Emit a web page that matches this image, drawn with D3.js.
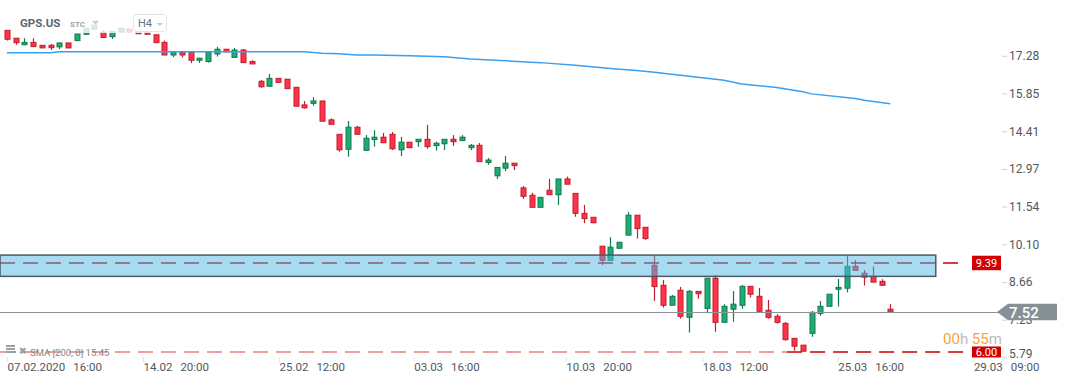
<!DOCTYPE html>
<html>
<head>
<meta charset="utf-8">
<script src="https://cdn.jsdelivr.net/npm/d3@7"></script>
<style>
body { margin: 0; background: #fff; }
text { font-family: Roboto, "Noto Sans", sans-serif; }
</style>
</head>
<body>
<script>
"use strict";

// GPS.US, H4 candles : [open, high, low, close]
var candles = [
    [18.25,18.25,17.86,17.91],[17.95,17.95,17.70,17.78],[17.70,17.95,17.70,17.79],[17.79,17.95,17.63,17.63],
    [17.68,17.68,17.58,17.58],[17.68,17.73,17.50,17.59],[17.62,17.77,17.54,17.77],[17.77,17.77,17.58,17.58],
    [17.86,18.11,17.86,18.11],[18.10,18.33,18.07,18.33],[18.29,18.45,18.29,18.45],[18.18,18.26,17.98,17.98],
    [18.01,18.21,17.92,18.21],[18.18,18.33,18.18,18.33],[18.30,18.30,18.15,18.18],[18.19,18.19,18.12,18.12],
    [18.16,18.16,18.10,18.10],[18.08,18.08,17.78,17.78],[17.79,17.86,17.31,17.31],[17.31,17.44,17.23,17.44],
    [17.40,17.40,17.22,17.31],[17.41,17.46,17.00,17.11],[17.11,17.19,17.01,17.19],[17.06,17.46,17.02,17.41],
    [17.35,17.62,17.25,17.53],[17.53,17.53,17.43,17.43],[17.22,17.58,17.22,17.50],[17.50,17.54,17.02,17.02],
    [17.06,17.11,16.97,16.97],[16.31,16.36,16.07,16.10],[16.12,16.59,16.12,16.42],[16.42,16.42,16.27,16.27],
    [16.39,16.39,16.03,16.03],[16.08,16.08,15.36,15.36],[15.41,15.56,15.27,15.30],[15.47,15.70,15.38,15.56],
    [15.56,15.56,14.79,14.79],[14.84,14.90,14.67,14.67],[14.29,14.29,13.63,13.70],[13.72,14.80,13.44,14.56],
    [14.56,14.61,14.29,14.29],[13.68,14.26,13.68,14.14],[14.09,14.45,13.82,14.18],[14.18,14.34,13.97,13.97],
    [14.29,14.38,13.69,13.74],[13.70,14.19,13.46,13.99],[13.99,13.99,13.78,13.78],[14.01,14.10,13.81,14.10],
    [14.10,14.65,13.74,13.82],[13.86,14.01,13.67,13.95],[13.93,14.10,13.69,14.10],[14.10,14.26,13.85,14.01],
    [14.05,14.26,14.05,14.18],[13.78,13.92,13.69,13.87],[13.87,13.96,13.25,13.25],[13.22,13.39,13.13,13.31],
    [12.71,13.03,12.59,13.03],[13.00,13.46,12.89,13.19],[13.19,13.19,12.93,13.10],[12.25,12.32,11.83,11.93],
    [11.97,12.06,11.51,11.51],[11.51,11.89,11.51,11.89],[12.16,12.59,11.99,11.99],[11.99,12.59,11.60,12.59],
    [12.59,12.68,12.39,12.39],[12.04,12.04,11.15,11.28],[11.28,11.60,10.91,11.08],[11.13,11.13,10.92,10.92],
    [10.03,10.03,9.31,9.49],[9.49,10.37,9.49,9.99],[9.95,10.18,9.95,10.18],[10.45,11.33,10.45,11.21],
    [11.21,11.21,10.32,10.70],[10.75,10.75,10.27,10.32],[9.30,9.67,7.95,8.49],[8.54,8.74,7.69,7.78],
    [7.78,8.17,7.78,8.12],[8.35,8.48,7.27,7.36],[7.32,8.36,6.74,8.31],[8.31,8.31,8.03,8.22],
    [7.66,8.81,7.47,8.81],[8.81,8.93,6.77,7.13],[7.13,7.82,7.13,7.74],[7.63,8.32,7.15,7.82],
    [7.78,8.55,7.65,8.50],[8.50,8.50,8.08,8.20],[8.12,8.44,7.50,7.55],[7.59,7.98,7.27,7.32],
    [7.36,7.44,7.08,7.13],[7.09,7.14,6.43,6.47],[6.52,6.52,6.05,6.22],[6.26,6.26,6.03,6.03],
    [6.71,7.56,6.58,7.51],[7.47,7.94,7.38,7.74],[7.74,8.20,7.74,8.20],[8.39,8.78,7.73,8.46],
    [8.43,9.67,8.27,9.26],[9.26,9.50,9.11,9.11],[9.00,9.12,8.53,8.85],[8.88,9.26,8.66,8.66],
    [8.69,8.77,8.54,8.54],[7.63,7.82,7.52,7.52]
];

// SMA(200) read at some candle indexes
var smaIdx = [0, 5, 6, 34, 36, 38, 40, 42, 46, 50, 53, 57, 61, 65, 69, 72, 74, 78, 82, 84, 88, 91, 92, 97, 98, 101];
var smaVal = [17.40, 17.40, 17.43, 17.43, 17.38, 17.36, 17.31, 17.31, 17.28, 17.24, 17.16, 17.09, 17.02,
              16.92, 16.80, 16.72, 16.65, 16.50, 16.35, 16.21, 16.07, 15.91, 15.83, 15.65, 15.59, 15.45];

var yTicks = [17.28, 15.85, 14.41, 12.97, 11.54, 10.10, 8.66, 7.23, 5.79];
var xTickPos = [0, 15.55, 31.1, 46.5, 63.9, 79.5, 95.0, 110.5];
var xTickLabels = ["07.02.2020 16:00", "14.02 20:00", "25.02 12:00", "03.03 16:00",
                   "10.03 20:00", "18.03 12:00", "25.03 16:00", "29.03 09:00"];

var zone = { from: -0.8, to: 106.2, high: 9.69, low: 8.88 };
var levelHigh = 9.39;
var levelLow = 6.00;
var lastPrice = 7.52;
var levelLowAnchor = 89.2;

var widthEcran = 1069, heightEcran = 384;

var svg = d3.select("body").append("svg")
    .attr("width", widthEcran)
    .attr("height", heightEcran);

var x = d3.scaleLinear().domain([0, candles.length - 1]).range([7, 890.3]);
var y = d3.scaleLinear().domain([5.79, 17.28]).range([357.5, 55.8]);

var RED = "#ff3347", RED_D = "#bf1e2e", GREEN = "#20ab74", GREEN_D = "#0f7a4e";

// level 6.00 (faded part left of anchor)
svg.append("line")
    .attr("x1", 0).attr("x2", x(levelLowAnchor))
    .attr("y1", y(levelLow)).attr("y2", y(levelLow))
    .attr("stroke", "#d00000").attr("stroke-opacity", 0.5)
    .attr("stroke-width", 1.5).attr("stroke-dasharray", "15,8");
svg.append("line")
    .attr("x1", x(levelLowAnchor)).attr("x2", 963)
    .attr("y1", y(levelLow)).attr("y2", y(levelLow))
    .attr("stroke", "#c80000")
    .attr("stroke-width", 1.5).attr("stroke-dasharray", "15,8");

// candles
var cg = svg.append("g");
var isUp = function(d) { return d[3] >= d[0]; };
cg.selectAll(".wick").data(candles).enter().append("line")
    .attr("x1", function(d, i) { return Math.round(x(i)) + 0.5; })
    .attr("x2", function(d, i) { return Math.round(x(i)) + 0.5; })
    .attr("y1", function(d) { return y(d[1]); })
    .attr("y2", function(d) { return y(d[2]); })
    .attr("stroke", function(d) { return isUp(d) ? GREEN_D : RED_D; })
    .attr("stroke-width", 1.2);
cg.selectAll(".body").data(candles).enter().append("rect")
    .attr("x", function(d, i) { return Math.round(x(i)) - 2; })
    .attr("y", function(d) { return y(Math.max(d[0], d[3])); })
    .attr("width", 5)
    .attr("height", function(d) { return Math.max(1, y(Math.min(d[0], d[3])) - y(Math.max(d[0], d[3]))); })
    .attr("fill", function(d) { return isUp(d) ? GREEN : RED; })
    .attr("stroke", function(d) { return isUp(d) ? GREEN_D : RED_D; })
    .attr("stroke-width", 1);

// SMA line
var smaPts = smaIdx.map(function(v, i) { return [v, smaVal[i]]; });
svg.append("path")
    .datum(smaPts)
    .attr("fill", "none")
    .attr("stroke", "#3a9ff0")
    .attr("stroke-width", 1.5)
    .attr("d", d3.line().x(function(d) { return x(d[0]); }).y(function(d) { return y(d[1]); }));

// level 9.39
svg.append("line")
    .attr("x1", 0).attr("x2", 963)
    .attr("y1", y(levelHigh)).attr("y2", y(levelHigh))
    .attr("stroke", "#c80000")
    .attr("stroke-width", 1.5).attr("stroke-dasharray", "15,8");

// zone
svg.append("rect")
    .attr("x", x(zone.from))
    .attr("y", y(zone.high))
    .attr("width", x(zone.to) - x(zone.from))
    .attr("height", y(zone.low) - y(zone.high))
    .attr("fill", "rgb(78,183,228)")
    .attr("fill-opacity", 0.5)
    .attr("stroke", "#4a5b66")
    .attr("stroke-width", 1.5);

// last price line
svg.append("line")
    .attr("x1", 0).attr("x2", 998)
    .attr("y1", Math.round(y(lastPrice)) + 0.5).attr("y2", Math.round(y(lastPrice)) + 0.5)
    .attr("stroke", "#8d9497").attr("stroke-width", 1);

// right axis
var yAxis = svg.append("g")
    .attr("transform", "translate(1002,0)")
    .call(d3.axisRight(y).tickValues(yTicks).tickSize(5).tickPadding(2).tickFormat(d3.format(".2f")));
yAxis.select(".domain").remove();
yAxis.selectAll(".tick line").attr("stroke", "#cfd3d6");
yAxis.selectAll(".tick text")
    .attr("fill", "#50585e")
    .attr("font-size", "12px")
    .attr("font-family", "Roboto")
    .attr("y", function(d) { return d === 5.79 ? -3.5 : 0; });

// bottom axis
var xAxis = svg.append("g")
    .attr("transform", "translate(0,357)")
    .call(d3.axisBottom(x).tickValues(xTickPos).tickSize(5).tickFormat(""));
xAxis.select(".domain").remove();
xAxis.selectAll(".tick line").attr("stroke", "#e2e4e6");
xAxis.selectAll(".tick").each(function(d, i) {
    var parts = xTickLabels[i].split(" ");
    var t = d3.select(this).append("text")
        .attr("y", 14)
        .attr("text-anchor", "start")
        .attr("fill", "#50585e")
        .attr("font-size", "11.5px")
        .attr("font-family", "Roboto");
    t.append("tspan").text(parts[0]);
    t.append("tspan").attr("dx", 8).text(parts[1]);
});

// level labels
function levelLabel(value, h) {
    var cy = y(value);
    svg.append("rect")
        .attr("x", 972).attr("y", cy - h / 2)
        .attr("width", 29).attr("height", h)
        .attr("fill", "#d30000");
    svg.append("text")
        .attr("x", 986.5).attr("y", cy + 4)
        .attr("text-anchor", "middle")
        .attr("fill", "#fff")
        .attr("font-size", "11px")
        .text(value.toFixed(2));
}
levelLabel(levelHigh, 14.5);
levelLabel(levelLow, 11);

// last price tag
var ly = y(lastPrice);
svg.append("path")
    .attr("d", "M997," + ly + " L1008," + (ly - 8.2) + " L1057," + (ly - 8.2) +
               " L1057," + (ly + 8.2) + " L1008," + (ly + 8.2) + " Z")
    .attr("fill", "#879094");
svg.append("text")
    .attr("x", 1009).attr("y", ly + 5.5)
    .attr("fill", "#fff")
    .attr("font-size", "15px")
    .attr("font-weight", "500")
    .text(lastPrice.toFixed(2));

// countdown
var cd = svg.append("text")
    .attr("x", 943).attr("y", 344)
    .attr("font-size", "15px");
cd.append("tspan").attr("fill", "#f7a43b").text("00");
cd.append("tspan").attr("fill", "#bcbcbc").text("h ");
cd.append("tspan").attr("fill", "#f7a43b").text("55");
cd.append("tspan").attr("fill", "#bcbcbc").text("m");

// header
svg.append("rect")
    .attr("x", 62).attr("y", 8).attr("width", 108).attr("height", 25)
    .attr("fill", "#fff").attr("fill-opacity", 0.8);
svg.append("text")
    .attr("x", 20).attr("y", 27)
    .attr("font-size", "11.5px").attr("font-weight", "bold")
    .attr("fill", "#5c676e")
    .text("GPS.US");
svg.append("text")
    .attr("x", 70).attr("y", 27)
    .attr("font-size", "8px").attr("font-weight", "bold")
    .attr("fill", "#9aa3a9")
    .text("STC");
svg.append("path")
    .attr("d", "M92,21 L99,21 L95.5,24.5 Z")
    .attr("fill", "#c4c9cc");
svg.append("rect")
    .attr("x", 133.5).attr("y", 14.5).attr("width", 33).attr("height", 17).attr("rx", 3)
    .attr("fill", "#fff").attr("fill-opacity", 0.6)
    .attr("stroke", "#e2e4e6");
svg.append("text")
    .attr("x", 138).attr("y", 27)
    .attr("font-size", "11px")
    .attr("fill", "#6a747a")
    .text("H4");
svg.append("path")
    .attr("d", "M156.5,23 L163,23 L159.75,26 Z")
    .attr("fill", "#c4c9cc");

// indicator legend
var lg = svg.append("g").attr("fill", "#9aa0a4");
lg.append("rect").attr("x", 6).attr("y", 345).attr("width", 9).attr("height", 2);
lg.append("rect").attr("x", 6).attr("y", 348).attr("width", 9).attr("height", 2);
lg.append("rect").attr("x", 6).attr("y", 351).attr("width", 10).attr("height", 2);
svg.append("text")
    .attr("x", 18.5).attr("y", 354)
    .attr("font-size", "9px").attr("font-weight", "bold")
    .attr("fill", "#9aa0a4")
    .text("\u2716");
svg.append("text")
    .attr("x", 30).attr("y", 355.5)
    .attr("font-size", "9.5px")
    .attr("fill", "#7d858a")
    .text("SMA [200, 0] 15.45");
</script>
</body>
</html>
